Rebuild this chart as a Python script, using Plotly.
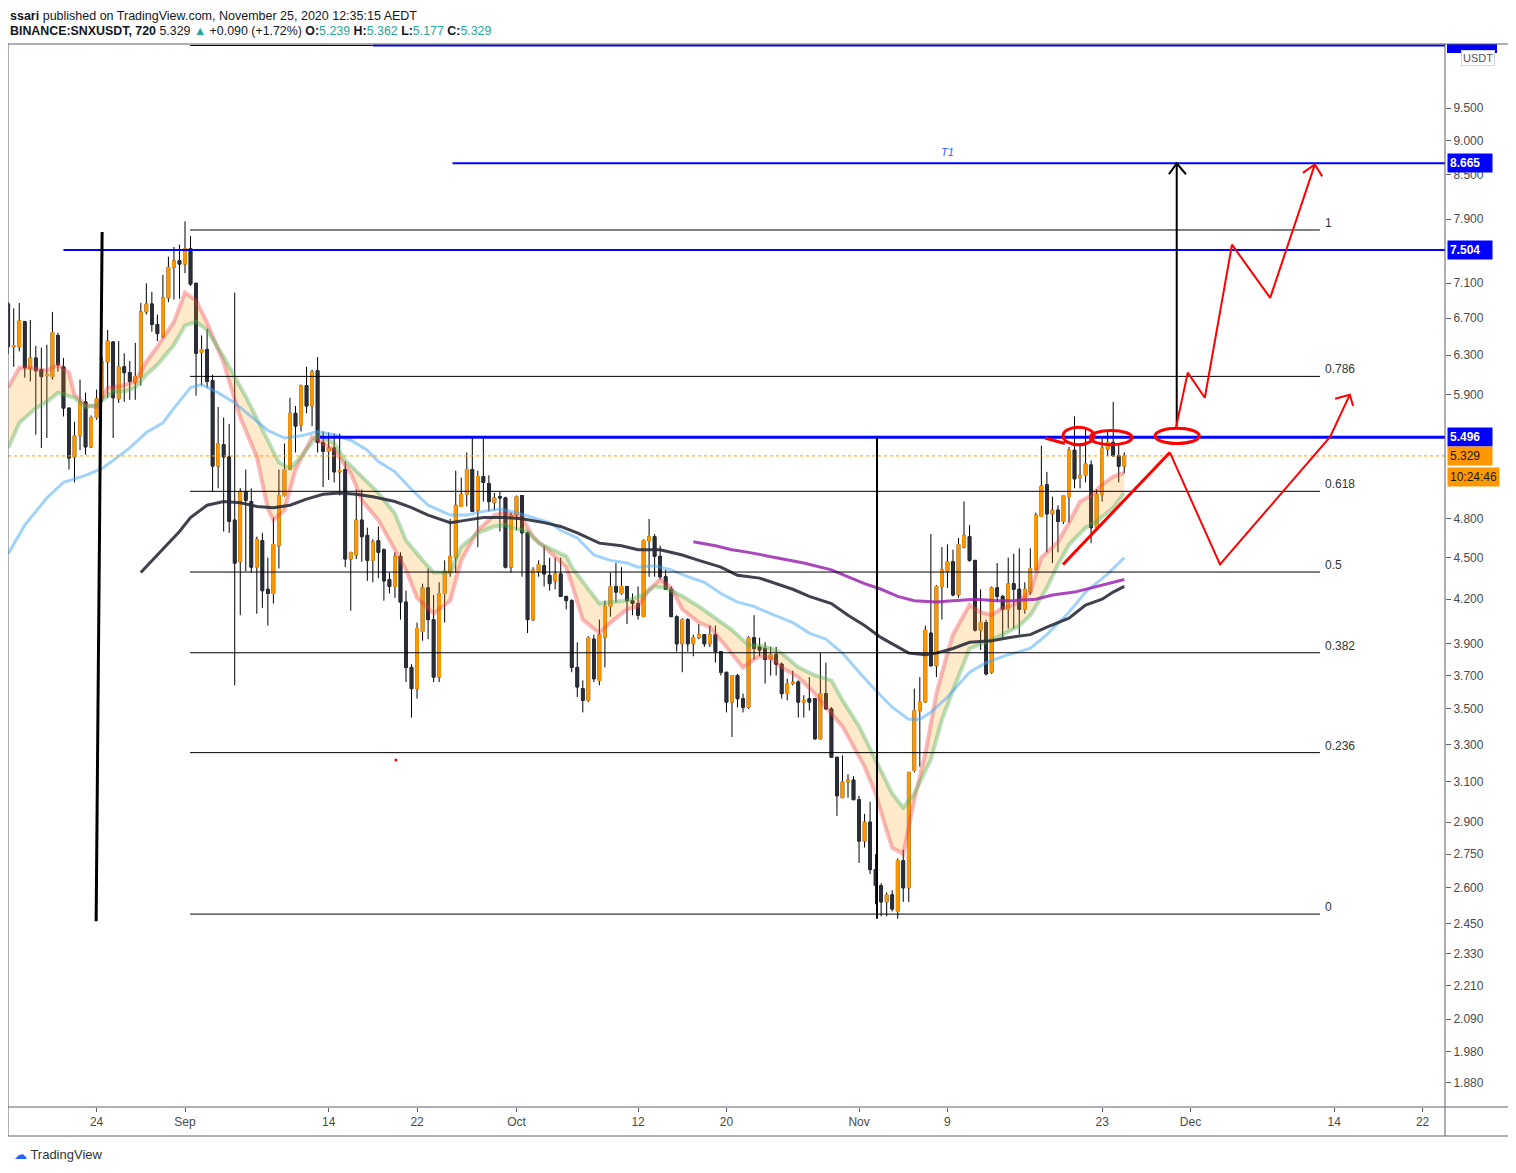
"""
snx_chart.py
------------
BINANCE:SNXUSDT 12h chart with EMA ribbon, moving averages,
fib retracement, target lines and projection drawings.
"""

import numpy as np
import pandas as pd
import plotly.graph_objects as go


# ── candles (12h bars, first bar 16 Aug 2020 00:00) ───────────────────────
FIRST_BAR = "2020-08-16 00:00"
OPENS = [6.86, 6.39, 6.39, 6.66, 6.16, 6.27, 6.15, 6.09, 6.08, 6.51,
         6.18, 5.77, 5.32, 5.51, 5.83, 5.41, 5.68, 5.86, 6.23, 6.44,
         5.86, 6.18, 6.12, 6.02, 6.08, 6.77, 6.86, 6.63, 6.50, 6.93,
         7.29, 7.37, 7.33, 7.52, 7.10, 6.33, 6.36, 6.04, 5.24, 5.43,
         5.32, 4.79, 4.47, 5.02, 4.94, 4.43, 4.63, 4.27, 4.24, 4.59,
         4.99, 5.21, 5.72, 5.61, 5.99, 5.79, 6.14, 5.45, 5.37, 5.40,
         5.19, 5.21, 4.49, 4.52, 4.79, 4.67, 4.48, 4.63, 4.56, 4.34,
         4.29, 4.51, 4.18, 3.75, 3.62, 3.98, 4.28, 4.06, 3.69, 4.24,
         4.39, 4.50, 4.90, 5.00, 5.21, 4.87, 5.15, 5.09, 4.93, 4.98,
         4.97, 4.43, 4.83, 4.99, 4.69, 4.06, 4.40, 4.44, 4.37, 4.33,
         4.38, 4.22, 4.19, 3.75, 3.62, 3.55, 3.93, 3.67, 3.94, 4.15,
         4.29, 4.24, 4.29, 4.19, 4.17, 4.08, 4.63, 4.66, 4.51, 4.36,
         4.27, 4.08, 3.90, 4.06, 3.90, 3.94, 3.96, 3.90, 3.96, 3.85,
         3.72, 3.54, 3.70, 3.56, 3.51, 3.94, 3.88, 3.87, 3.80, 3.83,
         3.77, 3.59, 3.65, 3.66, 3.54, 3.56, 3.56, 3.33, 3.59, 3.50,
         3.23, 3.02, 3.10, 3.11, 3.01, 2.81, 2.90, 2.68, 2.61, 2.54,
         2.57, 2.50, 2.72, 2.60, 3.16, 3.49, 3.54, 3.97, 3.76, 4.29,
         4.40, 4.47, 4.23, 4.58, 4.66, 4.48, 3.99, 4.04, 3.72, 4.28,
         4.22, 4.13, 4.31, 4.27, 4.13, 4.25, 4.41, 4.82, 5.08, 4.84,
         4.87, 4.78, 4.98, 5.38, 5.14, 5.16, 5.25, 4.73, 5.00, 5.39,
         5.45, 5.33, 5.239]
HIGHS = [6.88, 6.81, 6.87, 6.67, 6.68, 6.40, 6.38, 6.41, 6.77, 6.54,
         6.27, 5.77, 5.64, 6.05, 5.92, 5.70, 5.95, 6.28, 6.57, 6.45,
         6.45, 6.32, 6.24, 6.43, 6.87, 7.10, 7.00, 6.74, 7.20, 7.42,
         7.54, 7.57, 7.87, 7.68, 7.10, 6.51, 6.58, 6.10, 5.78, 5.68,
         5.62, 6.99, 5.05, 5.21, 5.05, 4.66, 4.69, 4.50, 4.81, 5.21,
         5.44, 5.87, 5.79, 6.00, 6.18, 6.15, 6.28, 5.55, 5.54, 5.53,
         5.53, 5.28, 4.54, 5.04, 5.04, 4.73, 4.64, 4.74, 4.57, 4.39,
         4.54, 4.54, 4.26, 3.77, 4.04, 4.31, 4.42, 4.23, 4.32, 4.48,
         4.80, 5.20, 5.14, 5.36, 5.49, 5.20, 5.49, 5.16, 5.01, 5.02,
         4.98, 4.85, 4.99, 4.99, 4.70, 4.43, 4.48, 4.59, 4.50, 4.50,
         4.50, 4.22, 4.20, 3.91, 3.67, 3.95, 3.96, 4.06, 4.19, 4.39,
         4.46, 4.43, 4.29, 4.24, 4.29, 4.64, 4.80, 4.68, 4.59, 4.41,
         4.29, 4.09, 4.07, 4.07, 3.96, 4.03, 3.96, 4.02, 4.02, 3.85,
         3.72, 3.70, 3.71, 3.59, 3.95, 4.09, 3.94, 3.91, 3.88, 3.88,
         3.78, 3.68, 3.73, 3.67, 3.58, 3.69, 3.56, 3.84, 3.78, 3.51,
         3.23, 3.24, 3.14, 3.13, 3.03, 2.94, 3.00, 2.75, 2.62, 2.58,
         2.59, 2.73, 2.77, 3.15, 3.62, 3.69, 4.02, 4.68, 4.30, 4.58,
         4.60, 4.56, 4.65, 4.94, 4.75, 4.48, 4.27, 4.06, 4.29, 4.46,
         4.23, 4.50, 4.53, 4.57, 4.32, 4.57, 4.85, 5.42, 5.19, 4.98,
         4.91, 4.99, 5.41, 5.69, 5.43, 5.58, 5.29, 5.04, 5.49, 5.55,
         5.83, 5.43, 5.362]
LOWS = [6.31, 6.18, 6.34, 6.07, 6.03, 5.52, 5.40, 5.49, 6.05, 6.13,
        5.69, 5.21, 5.10, 5.38, 5.34, 5.40, 5.66, 5.83, 5.87, 5.49,
        5.82, 5.83, 5.85, 5.85, 5.99, 6.74, 6.55, 6.45, 6.48, 6.88,
        6.91, 6.92, 7.22, 7.07, 5.89, 5.99, 5.97, 5.02, 5.05, 4.70,
        4.69, 3.64, 4.09, 4.40, 4.39, 4.10, 4.14, 4.02, 4.17, 4.42,
        4.98, 5.21, 5.36, 5.55, 5.72, 5.60, 5.36, 5.06, 5.12, 5.10,
        4.99, 4.43, 4.12, 4.49, 4.47, 4.33, 4.32, 4.35, 4.19, 4.24,
        4.21, 4.06, 3.66, 3.45, 3.56, 3.92, 3.93, 3.66, 3.66, 4.04,
        4.36, 4.39, 4.90, 4.90, 4.86, 4.58, 4.94, 4.86, 4.87, 4.70,
        4.42, 4.39, 4.71, 4.36, 3.97, 4.05, 4.36, 4.29, 4.26, 4.27,
        4.22, 4.13, 3.72, 3.57, 3.48, 3.54, 3.66, 3.64, 3.75, 4.08,
        4.18, 4.23, 4.03, 4.09, 4.06, 4.08, 4.36, 4.36, 4.34, 4.27,
        4.08, 3.85, 3.72, 3.85, 3.82, 3.93, 3.88, 3.88, 3.78, 3.70,
        3.48, 3.34, 3.51, 3.48, 3.50, 3.80, 3.82, 3.65, 3.70, 3.70,
        3.56, 3.55, 3.64, 3.45, 3.45, 3.49, 3.33, 3.33, 3.50, 3.23,
        2.93, 3.02, 3.02, 3.01, 2.71, 2.78, 2.66, 2.53, 2.48, 2.48,
        2.50, 2.47, 2.54, 2.54, 3.15, 3.18, 3.54, 3.76, 3.69, 4.06,
        4.28, 4.22, 4.21, 4.57, 4.47, 3.98, 3.86, 3.70, 3.71, 4.18,
        3.94, 4.00, 4.00, 3.96, 4.10, 4.23, 4.41, 4.82, 4.54, 4.46,
        4.54, 4.76, 4.77, 5.05, 5.05, 5.10, 4.61, 4.72, 4.94, 5.33,
        5.32, 5.10, 5.177]
CLOSES = [6.39, 6.40, 6.67, 6.17, 6.27, 6.14, 6.08, 6.10, 6.54, 6.20,
          5.77, 5.31, 5.51, 5.83, 5.41, 5.68, 5.86, 6.23, 6.45, 5.87,
          6.18, 6.12, 6.03, 6.08, 6.77, 6.86, 6.63, 6.53, 6.93, 7.29,
          7.37, 7.33, 7.52, 7.09, 6.32, 6.36, 6.03, 5.24, 5.44, 5.32,
          4.78, 4.46, 5.02, 4.95, 4.43, 4.64, 4.26, 4.24, 4.60, 4.99,
          5.21, 5.72, 5.60, 5.99, 5.79, 6.13, 5.45, 5.37, 5.40, 5.19,
          5.20, 4.49, 4.54, 4.79, 4.66, 4.48, 4.62, 4.54, 4.33, 4.29,
          4.51, 4.18, 3.75, 3.62, 4.00, 4.28, 4.06, 3.69, 4.24, 4.40,
          4.51, 4.91, 5.00, 5.21, 4.86, 5.15, 5.10, 4.94, 4.97, 4.97,
          4.43, 4.83, 4.98, 4.69, 4.06, 4.41, 4.45, 4.38, 4.31, 4.38,
          4.22, 4.19, 3.75, 3.63, 3.55, 3.94, 3.68, 3.96, 4.15, 4.29,
          4.25, 4.29, 4.19, 4.17, 4.09, 4.63, 4.66, 4.51, 4.36, 4.27,
          4.08, 3.90, 4.06, 3.90, 3.94, 3.96, 3.90, 3.96, 3.85, 3.72,
          3.54, 3.70, 3.56, 3.51, 3.94, 3.87, 3.86, 3.80, 3.83, 3.77,
          3.59, 3.65, 3.66, 3.54, 3.55, 3.54, 3.33, 3.59, 3.50, 3.23,
          3.03, 3.10, 3.11, 3.01, 2.81, 2.90, 2.68, 2.61, 2.54, 2.57,
          2.51, 2.72, 2.60, 3.15, 3.49, 3.54, 3.99, 3.76, 4.29, 4.41,
          4.47, 4.23, 4.60, 4.67, 4.48, 3.99, 4.04, 3.71, 4.28, 4.22,
          4.13, 4.31, 4.27, 4.13, 4.27, 4.42, 4.83, 5.07, 4.84, 4.87,
          4.78, 4.99, 5.38, 5.13, 5.16, 5.26, 4.73, 5.00, 5.40, 5.45,
          5.33, 5.239, 5.329]

# ── indicator lines ("MM-DD HH") ─────────────────────────────────────────
EMA_FAST_DATES = ["08-16 00", "08-17 00", "08-18 00", "08-19 12", "08-20 12", "08-21 12", "08-22 00",
                  "08-23 00", "08-24 00", "08-25 00", "08-26 00", "08-27 12", "08-28 12", "08-29 12",
                  "08-31 00", "09-01 00", "09-02 00", "09-03 00", "09-04 12", "09-06 00", "09-07 12",
                  "09-08 12", "09-09 00", "09-10 00", "09-11 00", "09-12 12", "09-13 12", "09-14 12",
                  "09-16 00", "09-17 00", "09-18 12", "09-19 12", "09-21 00", "09-22 00", "09-23 12",
                  "09-25 00", "09-26 00", "09-27 12", "09-29 00", "09-30 00", "10-01 12", "10-02 12",
                  "10-04 00", "10-05 12", "10-06 00", "10-07 00", "10-08 12", "10-09 12", "10-11 00",
                  "10-12 00", "10-13 00", "10-14 00", "10-15 00", "10-16 00", "10-17 12", "10-18 12",
                  "10-20 00", "10-21 12", "10-22 12", "10-23 00", "10-24 00", "10-25 00", "10-26 12",
                  "10-28 00", "10-29 00", "10-30 12", "11-01 12", "11-02 12", "11-03 12", "11-04 00",
                  "11-05 00", "11-06 00", "11-07 00", "11-08 00", "11-09 00", "11-09 12", "11-11 00",
                  "11-12 00", "11-13 00", "11-14 00", "11-15 00", "11-16 12", "11-17 12", "11-19 00",
                  "11-20 00", "11-21 00", "11-22 00", "11-23 00", "11-24 00", "11-25 00"]
EMA_FAST = [5.97, 6.17, 6.17, 6.14, 6.20, 6.12, 5.90, 5.80, 5.78, 5.97, 5.98, 6.03, 6.23, 6.39, 6.66,
            6.99, 6.90, 6.65, 6.22, 5.68, 5.32, 4.88, 4.79, 4.87, 5.21, 5.50, 5.44, 5.38, 5.18, 4.95,
            4.79, 4.63, 4.41, 4.21, 4.10, 4.19, 4.48, 4.71, 4.83, 4.85,
            4.81, 4.66, 4.54, 4.43, 4.31, 4.06, 3.97, 4.04, 4.13, 4.15, 4.27, 4.34, 4.28, 4.13, 4.04,
            4.01, 3.88, 3.75, 3.80, 3.82, 3.81, 3.75, 3.69, 3.59, 3.51, 3.40,
            3.18, 3.04, 2.86, 2.78, 2.75, 3.01, 3.25, 3.59, 3.84, 3.96, 4.16, 4.11, 4.09, 4.14, 4.16,
            4.25, 4.50, 4.62, 4.77, 4.94, 4.99, 5.08, 5.15, 5.18]

EMA_SLOW_DATES = ["08-16 00", "08-17 00", "08-18 12", "08-19 12", "08-20 12", "08-22 00", "08-23 00",
                  "08-24 00", "08-25 12", "08-26 12", "08-27 12", "08-28 12", "08-29 12", "08-31 00",
                  "09-01 00", "09-02 00", "09-03 00", "09-04 12", "09-06 12", "09-08 00", "09-09 12",
                  "09-10 12", "09-11 12", "09-13 00", "09-14 12", "09-15 12", "09-17 00", "09-18 12",
                  "09-20 00", "09-21 00", "09-22 12", "09-23 12", "09-25 00", "09-26 00", "09-27 12",
                  "09-29 00", "09-30 00", "09-30 12", "10-02 00", "10-03 00", "10-05 12", "10-06 00",
                  "10-07 12", "10-08 12", "10-09 12", "10-11 00", "10-12 12", "10-13 12", "10-14 12",
                  "10-16 00", "10-17 12", "10-19 00", "10-20 12", "10-22 00", "10-23 00", "10-24 00",
                  "10-25 00", "10-26 12", "10-28 00", "10-29 12", "10-30 12", "11-01 00", "11-02 12",
                  "11-04 00", "11-05 00", "11-06 00", "11-07 12", "11-08 12", "11-09 12", "11-11 00",
                  "11-12 12", "11-14 00", "11-15 12", "11-16 12", "11-18 00", "11-19 00", "11-20 00",
                  "11-21 12", "11-22 12", "11-24 00", "11-25 00"]
EMA_SLOW = [5.40, 5.63, 5.77, 5.83, 5.92, 5.87, 5.78, 5.80, 5.93, 5.93, 5.97, 6.10, 6.20, 6.41,
            6.62, 6.66, 6.57, 6.28, 5.88, 5.56, 5.27, 5.22, 5.32, 5.52, 5.44, 5.29, 5.15, 5.01,
            4.84, 4.63, 4.48, 4.39, 4.39, 4.58, 4.69, 4.74, 4.75, 4.73, 4.70, 4.61, 4.51, 4.43,
            4.27, 4.17, 4.18, 4.19, 4.23, 4.29, 4.28, 4.22, 4.15, 4.07, 3.99, 3.89, 3.89, 3.87,
            3.84, 3.75, 3.70, 3.67, 3.55, 3.40, 3.22, 3.04, 2.97, 3.04, 3.22, 3.44, 3.61, 3.87,
            3.91, 3.96, 4.02, 4.09, 4.28, 4.45, 4.60, 4.73, 4.78, 4.89, 5.01]

MA_BLUE_DATES = ["08-16 00", "08-17 12", "08-19 12", "08-21 00", "08-23 00", "08-24 12", "08-25 12",
                 "08-27 00", "08-28 12", "08-30 00", "08-31 00", "09-01 12", "09-02 12", "09-04 00",
                 "09-05 12", "09-07 00", "09-08 12", "09-10 00", "09-11 12", "09-13 00", "09-14 12",
                 "09-16 00", "09-17 12", "09-18 12", "09-20 00", "09-21 12", "09-23 00", "09-25 00",
                 "09-26 12", "09-28 00", "09-29 12", "10-01 00", "10-02 12", "10-04 00", "10-05 00",
                 "10-06 12", "10-08 00", "10-09 12", "10-11 00", "10-12 00", "10-13 12", "10-15 00",
                 "10-16 12", "10-18 00", "10-19 12", "10-21 00", "10-22 12", "10-24 00", "10-26 00",
                 "10-27 12", "10-29 00", "10-30 12", "11-01 00", "11-02 12", "11-04 00", "11-05 12",
                 "11-06 12", "11-07 12", "11-09 00", "11-11 00", "11-12 12", "11-14 12", "11-16 12",
                 "11-18 00", "11-20 00", "11-21 12", "11-23 12", "11-25 00"]
MA_BLUE = [4.53, 4.75, 4.97, 5.10, 5.16, 5.22, 5.29, 5.40, 5.54, 5.63, 5.77, 5.97, 6.00, 5.92,
           5.82, 5.69, 5.56, 5.49, 5.51, 5.55, 5.52, 5.47, 5.38, 5.28, 5.19, 5.04, 4.91, 4.83,
           4.83, 4.86, 4.88, 4.85, 4.81, 4.77, 4.71, 4.65, 4.52, 4.48, 4.46, 4.43, 4.44, 4.41,
           4.36, 4.32, 4.24, 4.18, 4.15, 4.10, 4.04, 3.97, 3.93, 3.84, 3.72, 3.61, 3.51, 3.44,
           3.44, 3.48, 3.57, 3.72, 3.78, 3.83, 3.87, 3.96, 4.11, 4.25, 4.38, 4.50]

MA_BLACK_DATES = ["08-28 00", "08-29 12", "08-31 12", "09-01 12", "09-03 00", "09-04 12", "09-06 00",
                  "09-07 12", "09-09 00", "09-10 12", "09-12 00", "09-13 12", "09-15 00", "09-16 12",
                  "09-18 00", "09-20 00", "09-21 12", "09-23 00", "09-25 00", "09-26 12", "09-28 00",
                  "09-30 00", "10-01 12", "10-03 12", "10-05 00", "10-06 12", "10-08 12", "10-10 12",
                  "10-12 00", "10-14 00", "10-16 00", "10-17 12", "10-19 12", "10-21 00", "10-23 00",
                  "10-26 00", "10-27 12", "10-29 12", "10-31 00", "11-01 12", "11-03 00", "11-04 12",
                  "11-05 12", "11-07 00", "11-08 00", "11-09 12", "11-11 00", "11-13 00", "11-14 12",
                  "11-16 12", "11-18 00", "11-20 00", "11-21 12", "11-23 00", "11-24 00", "11-25 00"]
MA_BLACK = [4.39, 4.52, 4.70, 4.81, 4.91, 4.94, 4.93, 4.90, 4.89, 4.91, 4.96, 5.00, 5.01, 5.00,
            4.98, 4.94, 4.89, 4.83, 4.77, 4.79, 4.81, 4.81, 4.80, 4.77, 4.74, 4.69, 4.61, 4.59,
            4.56, 4.56, 4.52, 4.48, 4.43, 4.37, 4.35, 4.27, 4.22, 4.17, 4.09, 4.02, 3.94, 3.88,
            3.84, 3.83, 3.84, 3.87, 3.91, 3.92, 3.94, 3.96, 4.01, 4.07, 4.16, 4.20, 4.25, 4.29]

MA_PURPLE_DATES = ["10-17 00", "10-19 00", "10-20 12", "10-22 00", "10-24 12", "10-27 00", "10-29 12",
                   "10-31 00", "11-01 12", "11-03 00", "11-04 12", "11-06 00", "11-08 00", "11-09 12",
                   "11-11 12", "11-13 12", "11-15 00", "11-17 00", "11-18 12", "11-20 12", "11-22 00",
                   "11-24 00", "11-25 00"]
MA_PURPLE = [4.62, 4.59, 4.56, 4.54, 4.50, 4.46, 4.41, 4.36, 4.31, 4.27, 4.22, 4.19, 4.18, 4.19,
             4.20, 4.19, 4.19, 4.20, 4.23, 4.25, 4.28, 4.32, 4.34]

# ── drawings ──────────────────────────────────────────────────────────────
FIB_LOW = 2.489
FIB_HIGH = 7.757
FIB_RATIOS = [0, 0.236, 0.382, 0.5, 0.618, 0.786, 1]
FIB_LABELS = ["0", "0.236", "0.382", "0.5", "0.618", "0.786", "1"]
FIB_START, FIB_END = "09-01 11", "12-12 17"

LEVEL_T1 = 8.665
LEVEL_HIGH = 7.504
LEVEL_NECK = 5.496
LAST_PRICE = 5.329
LEVEL_TOP = 10.54

RED_ZIGZAG_DATES = ["11-29 16", "11-30 18", "12-02 07", "12-04 18", "12-08 05", "12-12 06"]
RED_ZIGZAG = [5.58, 6.12, 5.87, 7.57, 6.93, 8.65]
RED_ZIGZAG_HEAD_DATES = ["12-11 04", "12-12 06", "12-12 22"]
RED_ZIGZAG_HEAD = [8.53, 8.65, 8.48]
RED_TREND_DATES = ["11-19 11", "11-29 03"]
RED_TREND = [4.45, 5.36]
RED_DIP_DATES = ["11-29 03", "12-03 16", "12-13 15", "12-15 10"]
RED_DIP = [5.36, 4.45, 5.50, 5.90]
RED_DIP_HEAD_DATES = ["12-14 02", "12-15 10", "12-15 17"]
RED_DIP_HEAD = [5.86, 5.90, 5.79]
RED_RINGS = [("11-19 11", "11-22 06", 5.43, 5.59),
             ("11-21 22", "11-25 17", 5.43, 5.56),
             ("11-27 19", "12-01 19", 5.44, 5.58)]

X_START, X_END = "2020-08-15 23:34", "2020-12-24 00:40"
Y_BOTTOM, Y_TOP = 1.8064, 10.566

Y_TICKS = [1.88, 1.98, 2.09, 2.21, 2.33, 2.45, 2.6, 2.75, 2.9, 3.1, 3.3, 3.5, 3.7, 3.9,
           4.2, 4.5, 4.8, 5.9, 6.3, 6.7, 7.1, 7.9, 8.5, 9.0, 9.5]
X_TICKS = ["2020-08-24", "2020-09-01", "2020-09-14", "2020-09-22", "2020-10-01", "2020-10-12",
           "2020-10-20", "2020-11-01", "2020-11-09", "2020-11-23", "2020-12-01", "2020-12-14",
           "2020-12-22"]
X_TICK_TEXT = ["24", "Sep", "14", "22", "Oct", "12", "20", "Nov", "9", "23", "Dec", "14", "22"]

# ── colours ───────────────────────────────────────────────────────────────
UP_COLOR = "#FF9800"
DOWN_COLOR = "#2A2E39"
TV_BLUE = "#0000FF"
TV_RED = "#FF0000"
TEAL = "#26A69A"
FONT = "Liberation Sans, Arial, sans-serif"

# the page body adds an 8px margin, so the figure is 8px smaller each way
FIG_W, FIG_H, PAGE_PAD = 1508, 1165, 8
PLOT_L, PLOT_R, PLOT_T, PLOT_B = 8, 1445, 44, 1107   # page pixels of the plot box


def dt(labels):
    return pd.to_datetime(["2020-" + s + ":00" for s in labels])


def paper(x_px, y_px):
    """Page pixel -> paper coords of the plot box."""
    return (x_px - PLOT_L) / (PLOT_R - PLOT_L), (PLOT_B - y_px) / (PLOT_B - PLOT_T)


def line(fig, xs, ys, color, width, dash="solid"):
    fig.add_trace(go.Scatter(x=xs, y=ys, mode="lines", hoverinfo="skip",
                             line=dict(color=color, width=width, dash=dash)))


def note(fig, x_px, y_px, text, size=13, color="#131722", **kw):
    x, y = paper(x_px, y_px)
    fig.add_annotation(x=x, y=y, xref="paper", yref="paper", text=text, showarrow=False,
                       xanchor=kw.pop("xanchor", "left"), yanchor="middle",
                       font=dict(family=FONT, size=size, color=color), **kw)


def build_chart() -> go.Figure:
    fig = go.Figure()
    times = pd.date_range(FIRST_BAR, periods=len(OPENS), freq="12h")
    o, h, l, c = map(np.array, (OPENS, HIGHS, LOWS, CLOSES))

    # EMA ribbon fill
    fx, sx = dt(EMA_FAST_DATES), dt(EMA_SLOW_DATES)
    fig.add_trace(go.Scatter(x=list(fx) + list(sx[::-1]), y=EMA_FAST + EMA_SLOW[::-1],
                             fill="toself", fillcolor="rgba(255,152,0,0.2)", mode="none",
                             hoverinfo="skip"))

    # candles: wicks + bodies, then bodies again so borders take the body colour
    fig.add_trace(go.Candlestick(x=times, open=o, high=h, low=l, close=c,
                                 increasing=dict(line=dict(color="#000000", width=1), fillcolor=UP_COLOR),
                                 decreasing=dict(line=dict(color="#000000", width=1), fillcolor=DOWN_COLOR),
                                 hoverinfo="skip"))
    fig.add_trace(go.Candlestick(x=times, open=o, high=np.maximum(o, c), low=np.minimum(o, c), close=c,
                                 increasing=dict(line=dict(color=UP_COLOR, width=1), fillcolor=UP_COLOR),
                                 decreasing=dict(line=dict(color=DOWN_COLOR, width=1), fillcolor=DOWN_COLOR),
                                 hoverinfo="skip"))

    # moving averages
    line(fig, fx, EMA_FAST, "rgba(242,54,69,0.35)", 4)
    line(fig, sx, EMA_SLOW, "rgba(76,175,80,0.4)", 4)
    line(fig, dt(MA_BLUE_DATES), MA_BLUE, "rgba(66,165,245,0.5)", 3)
    line(fig, dt(MA_BLACK_DATES), MA_BLACK, "rgba(42,46,57,0.9)", 3)
    line(fig, dt(MA_PURPLE_DATES), MA_PURPLE, "rgba(156,39,176,0.85)", 3)

    # last price
    line(fig, [X_START, X_END], [LAST_PRICE] * 2, UP_COLOR, 1, "dot")

    # fib retracement (log scale)
    fib_levels = [np.exp(np.log(FIB_LOW) + r * (np.log(FIB_HIGH) - np.log(FIB_LOW))) for r in FIB_RATIOS]
    fs, fe = dt([FIB_START, FIB_END])
    for lvl, lab in zip(fib_levels, FIB_LABELS):
        line(fig, [fs, fe], [lvl, lvl], "#000000", 1)
        fig.add_annotation(x=fe, y=np.log10(lvl), text=lab, showarrow=False, xanchor="left",
                           yanchor="bottom", xshift=3, yshift=-2,
                           font=dict(family=FONT, size=12, color="#333333"))

    # horizontal target / resistance lines
    line(fig, dt(["09-01 11", "09-18 00"]), [LEVEL_TOP] * 2, "#000000", 1)
    line(fig, [dt(["09-18 00"])[0], X_END], [LEVEL_TOP] * 2, TV_BLUE, 2)
    line(fig, [dt(["09-25 05"])[0], X_END], [LEVEL_T1] * 2, TV_BLUE, 2)
    line(fig, [dt(["08-21 00"])[0], X_END], [LEVEL_HIGH] * 2, TV_BLUE, 2)
    line(fig, [dt(["09-13 05"])[0], X_END], [LEVEL_NECK] * 2, TV_BLUE, 3)
    fig.add_annotation(x=dt(["11-09 01"])[0], y=np.log10(LEVEL_T1), text="<i>T1</i>", showarrow=False,
                       yshift=11, font=dict(family=FONT, size=11, color="#2962FF"))

    # black verticals and measured-move arrow
    line(fig, dt(["08-24 12", "08-23 23"]), [7.73, 2.46], "#000000", 3)
    line(fig, dt(["11-02 15", "11-02 15"]), [LEVEL_NECK, 2.47], "#000000", 2)
    line(fig, dt(["11-29 18", "11-29 18"]), [5.60, LEVEL_T1], "#000000", 2)
    line(fig, dt(["11-29 01", "11-29 18", "11-30 14"]), [8.51, LEVEL_T1, 8.51], "#000000", 2)

    # red projection
    line(fig, dt(RED_TREND_DATES), RED_TREND, TV_RED, 3)
    line(fig, dt(RED_ZIGZAG_DATES), RED_ZIGZAG, TV_RED, 2)
    line(fig, dt(RED_ZIGZAG_HEAD_DATES), RED_ZIGZAG_HEAD, TV_RED, 2)
    line(fig, dt(RED_DIP_DATES), RED_DIP, TV_RED, 2)
    line(fig, dt(RED_DIP_HEAD_DATES), RED_DIP_HEAD, TV_RED, 2)
    line(fig, dt(["11-17 20", "11-19 15"]), [5.49, 5.44], TV_RED, 3)
    fig.add_trace(go.Scatter(x=dt(["09-20 02"]), y=[3.215], mode="markers", hoverinfo="skip",
                             marker=dict(color=TV_RED, size=3)))
    for x0, x1, y0, y1 in RED_RINGS:
        a, b = dt([x0, x1])
        fig.add_shape(type="circle", xref="x", yref="y", x0=a, x1=b, y0=y0, y1=y1,
                      line=dict(color=TV_RED, width=3))

    # price-scale labels
    for val, txt, bg, fg in [(LEVEL_T1, "8.665", TV_BLUE, "white"),
                             (LEVEL_HIGH, "7.504", TV_BLUE, "white"),
                             (LEVEL_NECK, "5.496", TV_BLUE, "white"),
                             (LAST_PRICE, "5.329", UP_COLOR, "#131722")]:
        fig.add_annotation(x=paper(1447, 0)[0], xref="paper", y=np.log10(val), yanchor="middle",
                           text=f"<b>{txt}</b>" if fg == "white" else txt,
                           showarrow=False, xanchor="left", bgcolor=bg, borderpad=2, width=40, align="left",
                           font=dict(family=FONT, size=12, color=fg))
    note(fig, 1447, 477, "10:24:46", size=12, bgcolor=UP_COLOR, borderpad=2)
    note(fig, 1478, 58, "USDT", size=11, color="#555555", xanchor="center",
         bordercolor="#D1D4DC", borderwidth=1, borderpad=1, bgcolor="white")
    bx0, by0 = paper(1447, 53)
    bx1, by1 = paper(1497, 44)
    fig.add_shape(type="rect", xref="paper", yref="paper", x0=bx0, x1=bx1, y0=by0, y1=by1,
                  fillcolor=TV_BLUE, line=dict(width=0))

    # frame
    rx, _ = paper(1509, 0)
    _, ry = paper(0, 1136)
    frame = dict(color="#5D606B", width=1)
    fig.add_shape(type="rect", xref="paper", yref="paper", x0=0, x1=rx, y0=ry, y1=1, line=frame)
    fig.add_shape(type="line", xref="paper", yref="paper", x0=1, x1=1, y0=ry, y1=1, line=frame)
    fig.add_shape(type="line", xref="paper", yref="paper", x0=0, x1=rx, y0=0, y1=0, line=frame)

    # header and footer (the figure top sits 8px down the page, so the first line moves down a bit)
    note(fig, 8, 16, "<b>ssari</b> published on TradingView.com, November 25, 2020 12:35:15 AEDT", size=12.5)
    sub = (f"<b>BINANCE:SNXUSDT, 720</b> 5.329 <span style='color:{TEAL}'>▲</span> +0.090 (+1.72%) "
           f"<b>O:</b><span style='color:{TEAL}'>5.239</span> <b>H:</b><span style='color:{TEAL}'>5.362</span> "
           f"<b>L:</b><span style='color:{TEAL}'>5.177</span> <b>C:</b><span style='color:{TEAL}'>5.329</span>")
    note(fig, 8, 31, sub, size=12.4)
    note(fig, 12, 1154, "<span style='color:#2962FF'>☁</span> TradingView", color="#333333")

    fig.update_layout(
        width=FIG_W, height=FIG_H, showlegend=False, hovermode=False,
        margin=dict(l=PLOT_L - PAGE_PAD, r=FIG_W - (PLOT_R - PAGE_PAD),
                    t=PLOT_T - PAGE_PAD, b=FIG_H - (PLOT_B - PAGE_PAD)),
        paper_bgcolor="white", plot_bgcolor="white",
        xaxis=dict(type="date", range=[X_START, X_END], rangeslider=dict(visible=False),
                   showgrid=False, zeroline=False, showline=False,
                   tickvals=X_TICKS, ticktext=X_TICK_TEXT, ticks="outside", ticklen=4,
                   tickcolor="#5D606B", tickfont=dict(family=FONT, size=12, color="#4A4A4A")),
        yaxis=dict(type="log", side="right", range=[np.log10(Y_BOTTOM), np.log10(Y_TOP)],
                   showgrid=False, zeroline=False, showline=False,
                   tickvals=Y_TICKS, ticktext=[f"{v:.3f}" for v in Y_TICKS],
                   ticks="outside", ticklen=5, tickcolor="#5D606B",
                   tickfont=dict(family=FONT, size=12, color="#4A4A4A")),
    )
    return fig


fig = build_chart()
fig.write_html("out.html")
